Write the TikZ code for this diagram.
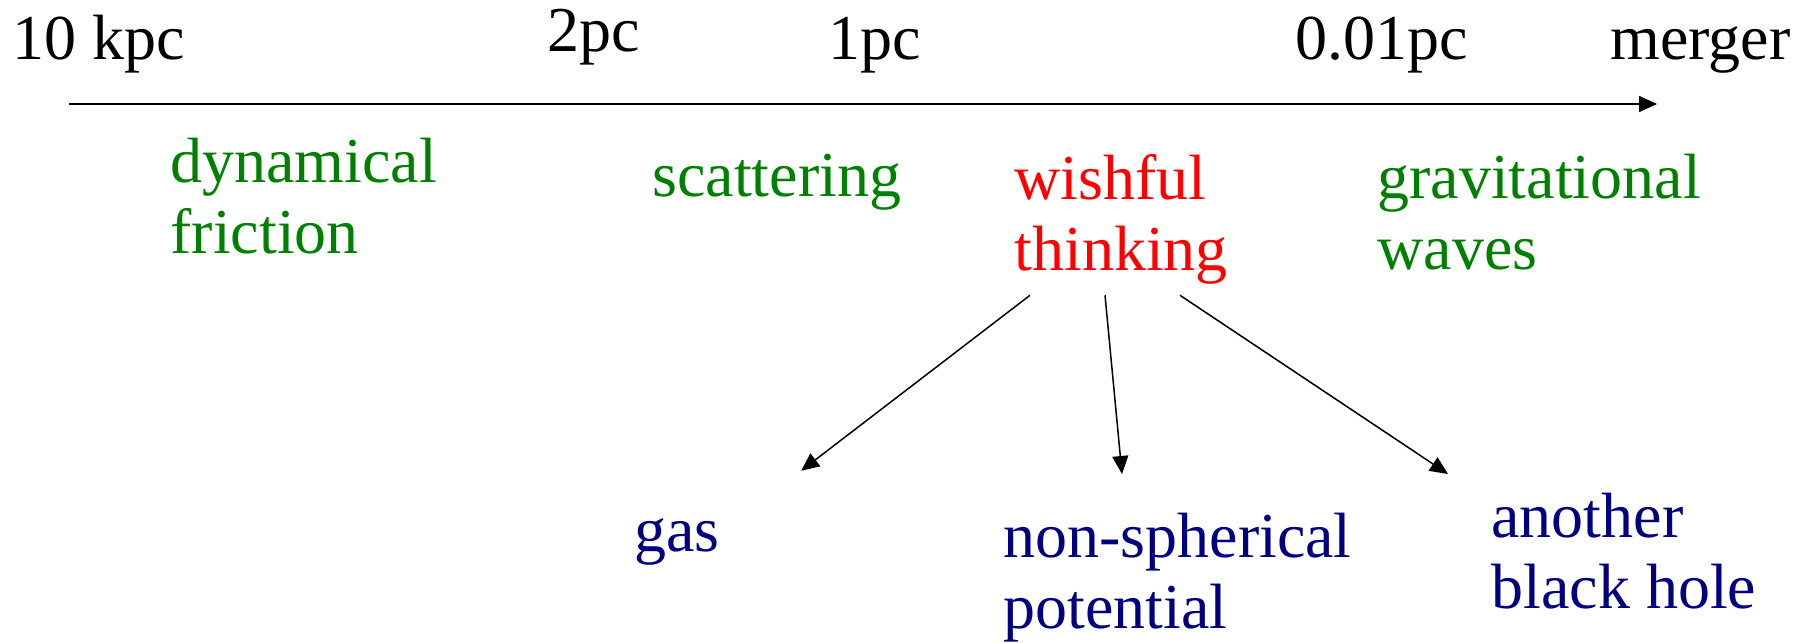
\documentclass[tikz,border=0pt]{standalone}
\usepackage{fontspec}
\setmainfont{Liberation Serif}
\usepackage{tikz}
\usetikzlibrary{arrows.meta, calc}
\definecolor{darkgreen}{RGB}{0, 128, 0}
\definecolor{brightred}{RGB}{255, 0, 0}
\definecolor{navyblue}{RGB}{0, 0, 128}
\tikzset{
    txt/.style = {inner sep=0pt, font=\fontsize{32}{35.3}\selectfont},
    scalemark/.style = {txt, anchor=base west, text=black},
    process/.style = {txt, anchor=north west, align=left, text=darkgreen},
    hope/.style = {txt, anchor=north west, align=left, text=brightred},
    option/.style = {txt, anchor=north west, align=left, text=navyblue},
    arrow/.style = {line width=0.75pt, -{Triangle[length=9pt, width=8pt]}}
}

\begin{document}
\begin{tikzpicture}[x=0.5pt, y=-0.5pt]
\useasboundingbox (0,0) rectangle (1808,642);

% separation scale
\coordinate (start) at (69,104);
\coordinate (end) at (1657,104);
\node (kpc) [scalemark] at (12,60) {10 kpc};
\node (twopc) [scalemark] at (547,52) {2pc};
\node (onepc) [scalemark] at (828,60) {1pc};
\node (centipc) [scalemark] at (1295,60) {0.01pc};
\node (merger) [scalemark] at (1610,60) {merger};
\draw [arrow] (start) -- (end);

% what shrinks the binary
\node (dynfric) [process] at (170,138) {dynamical\\friction};
\node (scatter) [process, anchor=base west] at (652,196) {scattering};
\node (wish) [hope] at (1014,154) {wishful\\thinking};
\node (gw) [process] at (1377,154) {gravitational\\waves};

% candidates
\node (gas) [option, anchor=base west] at (634,551) {gas};
\node (nonsph) [option] at (1003,513) {non-spherical\\potential};
\node (otherbh) [option] at (1491,493) {another\\black hole};

\draw [arrow] ($(wish.south west)+(16,11)$) -- ($(gas.north east)+(81,-47)$);
\draw [arrow] ($(wish.south west)+(91,11)$) -- ($(nonsph.north west)+(119,-39)$);
\draw [arrow] ($(wish.south west)+(166,11)$) -- ($(otherbh.north west)+(-43,-19)$);
\end{tikzpicture}
\end{document}
